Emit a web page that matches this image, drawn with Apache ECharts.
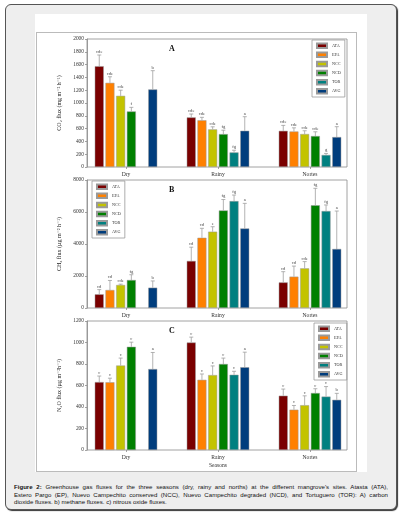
<!DOCTYPE html>
<html>
<head>
<meta charset="utf-8">
<script src="https://cdn.jsdelivr.net/npm/echarts@6/dist/echarts.min.js"></script>
<style>
  html, body { margin: 0; padding: 0; background: #fff; }
  #frame { position: absolute; left: 5px; top: 4px; width: 390px; height: 504px;
           background: #eeeeee; border: 1px solid #555; border-radius: 6px;
           box-shadow: 1px 1px 1px #333; }
  #paper { position: absolute; left: 35px; top: 14px; width: 332px; height: 458px; background: #fff; }
  #box { position: absolute; left: 36px; top: 32px; width: 319px; height: 438px; border: 1px solid #bbb; }
  #caption { position: absolute; left: 14px; top: 483px; width: 374px;
             font-family: "Liberation Sans", Arial, sans-serif; font-size: 6.1px;
             line-height: 7.6px; color: #111; }
  #caption div.j { text-align: justify; text-align-last: justify; }
  #main { position: absolute; left: 0; top: 0; width: 403px; height: 517px; }
</style>
</head>
<body>
<div id="frame"></div>
<div id="paper"></div>
<div id="box"></div>
<div id="caption">
  <div class="j"><b>Figure 2:</b> Greenhouse gas fluxes for the three seasons (dry, rainy and norths) at the different mangrove's sites. Atasta (ATA),</div>
  <div class="j">Estero Pargo (EP), Nuevo Campechito conserved (NCC), Nuevo Campechito degraded (NCD), and Tortuguero (TOR): A) carbon</div>
  <div>dioxide fluxes. b) methane fluxes. c) nitrous oxide fluxes.</div>
</div>
<div id="main"></div>
<script>
"use strict";
// seasons and sites
var seasons = ['Dry', 'Rainy', 'Nortes'];
var sites = ['ATA', 'EPA', 'NCC', 'NCD', 'TOR', 'AVG'];
var siteColors = ['#7a0000', '#ff8000', '#c3c300', '#008000', '#008080', '#003d7d'];

// A) CO2 flux (mg m-2 h-1), one row per site: Dry, Rainy, Nortes
var co2Mean = [
    [1575, 775, 565],
    [1315, 730, 555],
    [1112, 588, 515],
    [868, 514, 484],
    ['-', 228, 188],
    [1212, 566, 468]
];
var co2Upper = [
    [1750, 828, 650],
    [1410, 776, 612],
    [1200, 628, 566],
    [932, 575, 550],
    ['-', 262, 212],
    [1505, 786, 630]
];
var co2Letters = [
    ['cde', 'cde', 'cde'],
    ['cde', 'cde', 'cde'],
    ['cde', 'cde', 'cde'],
    ['f', 'fg', 'cde'],
    ['', 'fg', 'g'],
    ['b', 'a', 'a']
];

// B) CH4 flux (ug m-2 h-1)
var ch4Mean = [
    [856, 2940, 1600],
    [1125, 4390, 1960],
    [1440, 4770, 2480],
    [1750, 6100, 6420],
    ['-', 6680, 6060],
    [1270, 4970, 3690]
];
var ch4Upper = [
    [1150, 3800, 2270],
    [1720, 4980, 2620],
    [1490, 5080, 2900],
    [2080, 6780, 7480],
    ['-', 7060, 6440],
    [1690, 6540, 6060]
];
var ch4Letters = [
    ['cd', 'cd', 'cd'],
    ['cd', 'cd', 'cd'],
    ['cde', 'e', 'cde'],
    ['fg', 'fg', 'fg'],
    ['', 'fg', 'fg'],
    ['b', 'a', 'a']
];

// C) N2O flux (ug m-2 h-1)
var n2oMean = [
    [632, 1000, 505],
    [630, 653, 375],
    [786, 697, 417],
    [960, 800, 530],
    ['-', 700, 497],
    [753, 770, 467]
];
var n2oUpper = [
    [688, 1050, 567],
    [668, 707, 414],
    [855, 782, 504],
    [1003, 855, 570],
    ['-', 732, 590],
    [907, 910, 527]
];
var n2oLetters = [
    ['c', 'c', 'c'],
    ['c', 'c', 'c'],
    ['c', 'c', 'c'],
    ['c', 'c', 'c'],
    ['', 'c', 'c'],
    ['a', 'a', 'b']
];

var serif = '"Liberation Serif", "DejaVu Serif", serif';
var axisGray = '#8c8c8c';
var barW = 9;
var gapPx = 1.7;

var panels = [
    {mean: co2Mean, upper: co2Upper, letters: co2Letters, max: 2000, step: 200,
     name: 'CO₂ flux (mg m⁻² h⁻¹)', letter: 'A', top: 39, height: 128,
     legend: {left: 312, top: 40}},
    {mean: ch4Mean, upper: ch4Upper, letters: ch4Letters, max: 8000, step: 2000,
     name: 'CH₄ flux (µg m⁻² h⁻¹)', letter: 'B', top: 180, height: 128,
     legend: {left: 92, top: 181}},
    {mean: n2oMean, upper: n2oUpper, letters: n2oLetters, max: 1200, step: 200,
     name: 'N₂O flux (µg m⁻²h⁻¹)', letter: 'C', top: 321, height: 129,
     legend: {left: 314, top: 323}}
];

var grid = [], xAxis = [], yAxis = [], series = [], legend = [], graphic = [];

panels.forEach(function(p, k) {
    var gf = 2 * k, gd = 2 * k + 1;
    // frame grid: box and y axis
    grid.push({left: 87, width: 260, top: p.top, height: p.height,
               show: true, borderColor: axisGray, borderWidth: 0.8, backgroundColor: 'transparent'});
    // data grid: wider so the season groups sit where they sit in the figure
    grid.push({left: 80, width: 276, top: p.top, height: p.height});

    xAxis.push({gridIndex: gf, type: 'value', min: 0, max: 1, show: false});
    xAxis.push({
        gridIndex: gd, type: 'category', data: seasons,
        axisLine: {show: false},
        axisTick: {show: true, alignWithLabel: true, length: 2, lineStyle: {color: axisGray, width: 0.8}},
        axisLabel: {fontFamily: serif, fontSize: 5.6, color: '#333', margin: 5},
        name: k == 2 ? 'Seasons' : '', nameLocation: 'middle', nameGap: 13,
        nameTextStyle: {fontFamily: serif, fontSize: 5.6, color: '#333'}
    });

    yAxis.push({
        gridIndex: gf, type: 'value', min: 0, max: p.max, interval: p.step,
        axisLine: {show: true, lineStyle: {color: axisGray, width: 0.8}},
        axisTick: {show: true, length: 2, lineStyle: {color: axisGray, width: 0.8}},
        axisLabel: {fontFamily: serif, fontSize: 5.4, color: '#333', margin: 3,
                    formatter: function(v) { return String(v); }},
        splitLine: {show: false},
        name: p.name, nameLocation: 'middle', nameRotate: 90, nameGap: 21,
        nameTextStyle: {fontFamily: serif, fontSize: 6, color: '#222'}
    });
    yAxis.push({gridIndex: gd, type: 'value', min: 0, max: p.max, show: false});

    sites.forEach(function(s, i) {
        series.push({
            name: s, type: 'bar', xAxisIndex: gd, yAxisIndex: gd,
            data: p.mean[i], barWidth: barW, barGap: (gapPx / barW * 100) + '%',
            itemStyle: {color: siteColors[i], borderColor: '#9a9a9a', borderWidth: 0.5}
        });
    });

    // error bars with significance letters
    var items = [], labels = [];
    sites.forEach(function(s, i) {
        seasons.forEach(function(se, j) {
            if (p.mean[i][j] === '-') return;
            items.push([j, i, p.upper[i][j], p.mean[i][j]]);
            labels.push(p.letters[i][j]);
        });
    });
    series.push({
        type: 'custom', xAxisIndex: gd, yAxisIndex: gd, z: 5,
        encode: {x: 0, y: 2},
        data: items,
        renderItem: function(params, api) {
            var cat = api.value(0), i = api.value(1);
            var c = api.coord([cat, 0]);
            var total = sites.length * barW + (sites.length - 1) * gapPx;
            var x = c[0] - total / 2 + i * (barW + gapPx) + barW / 2;
            var yTop = api.coord([cat, api.value(2)])[1];
            var yMean = api.coord([cat, api.value(3)])[1];
            var ls = {stroke: '#a0a0a0', lineWidth: 0.8};
            return {type: 'group', children: [
                {type: 'line', shape: {x1: x, y1: yMean, x2: x, y2: yTop}, style: ls},
                {type: 'line', shape: {x1: x - 2, y1: yTop, x2: x + 2, y2: yTop}, style: ls},
                {type: 'text', x: x, y: yTop - 0.8, style: {
                    text: labels[params.dataIndex], align: 'center', verticalAlign: 'bottom',
                    textAlign: 'center', textVerticalAlign: 'bottom',
                    fontFamily: serif, fontSize: 4.6, fill: '#444'}}
            ]};
        }
    });

    legend.push({
        data: sites, orient: 'vertical', left: p.legend.left, top: p.legend.top,
        icon: 'rect', itemWidth: 10, itemHeight: 4.5, itemGap: 2.6,
        padding: [2.5, 4, 2.5, 4], borderColor: '#999', borderWidth: 0.8,
        textStyle: {fontFamily: serif, fontSize: 4.2, color: '#333'},
        selectedMode: false
    });

    graphic.push({type: 'text', left: 169, top: p.top + 6, style: {
        text: p.letter, font: 'bold 8px ' + serif, fill: '#111'}});
});

var myChart = echarts.init(document.getElementById('main'), null, {renderer: 'canvas'});
myChart.setOption({
    animation: false,
    grid: grid,
    xAxis: xAxis,
    yAxis: yAxis,
    legend: legend,
    graphic: graphic,
    series: series
});
</script>
</body>
</html>
